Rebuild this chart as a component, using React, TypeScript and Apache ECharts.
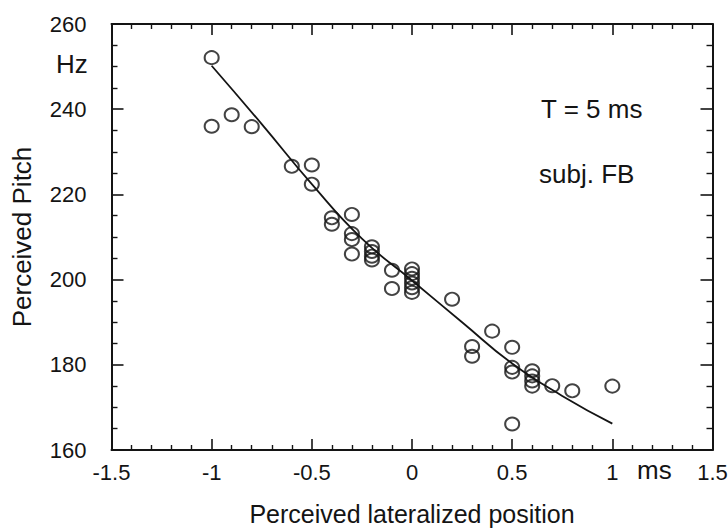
import React, { useEffect, useRef } from "react";
import * as echarts from "echarts";

const pitchX = [
  -1, -1, -0.9, -0.8, -0.6, -0.5, -0.5, -0.4, -0.4, -0.3, -0.3, -0.3, -0.3,
  -0.2, -0.2, -0.2, -0.2, -0.1, -0.1, 0, 0, 0, 0, 0, 0, 0.2, 0.3, 0.3, 0.4,
  0.5, 0.5, 0.5, 0.5, 0.6, 0.6, 0.6, 0.6, 0.7, 0.8, 1.0,
];
const pitchY = [
  252.1, 236.0, 238.7, 235.9, 226.6, 226.9, 222.4, 214.5, 213.0, 215.3, 210.8,
  209.4, 206.0, 207.7, 206.6, 205.5, 204.6, 202.2, 197.9, 202.5, 201.4, 200.3,
  199.2, 198.1, 197.0, 195.4, 184.3, 182.0, 187.9, 184.1, 179.4, 178.3, 166.1,
  178.6, 177.4, 176.2, 175.0, 175.1, 173.9, 175.0,
];
const fitX = [-1, -0.75, -0.5, -0.25, 0, 0.25, 0.5, 0.75, 1];
const fitY = [250.2, 236.5, 222.4, 209.6, 199.8, 190.0, 180.3, 172.7, 166.2];

const xTickLabels = ["-1.5", "-1", "-0.5", "0", "0.5", "1", "1.5"];
const yTickLabels = ["160", "180", "200", "220", "240", "260"];

const FONT = "'Liberation Sans', Arial, Helvetica, sans-serif";
const INK = "#141414";

const GRID = { left: 111.5, right: 15.5, top: 24, bottom: 81 };
const W = 728;
const H = 531;
const GW = W - GRID.left - GRID.right;
const GH = H - GRID.top - GRID.bottom;

export default function App() {
  const ref = useRef<HTMLDivElement>(null);
  useEffect(() => {
    if (!ref.current) return;
    const chart = echarts.init(ref.current, null, { renderer: "svg" });
    const xi = (v: number) => xTickLabels[Math.round((v + 1.5) / 0.5)] ?? "";
    const yi = (v: number) => yTickLabels[Math.round((v - 160) / 20)] ?? "";
    const line = { show: true, onZero: false, lineStyle: { color: INK, width: 2 } };
    const noLine = { show: false, onZero: false };
    const xScale = { type: "value", min: -1.5, max: 1.5, interval: 0.5, splitLine: { show: false } };
    const yScale = { type: "value", min: 160, max: 260, interval: 20, splitLine: { show: false } };
    const xTicks = {
      axisTick: { show: true, length: 11, lineStyle: { color: INK, width: 1.6 } },
      minorTick: { show: true, splitNumber: 5, length: 5, lineStyle: { color: INK, width: 1.4 } },
    };
    const yTicks = {
      axisTick: { show: true, length: 12, lineStyle: { color: INK, width: 1.6 } },
      minorTick: { show: true, splitNumber: 4, length: 6, lineStyle: { color: INK, width: 1.4 } },
    };
    const off = { axisTick: { show: false }, minorTick: { show: false } };
    chart.setOption({
      animation: false,
      backgroundColor: "#fff",
      textStyle: { fontFamily: FONT },
      grid: { ...GRID, containLabel: false, outerBoundsMode: "none" },
      xAxis: [
        {
          ...xScale,
          ...off,
          position: "bottom",
          axisLine: line,
          name: "Perceived lateralized position",
          nameLocation: "middle",
          nameGap: 51,
          nameTextStyle: { fontSize: 25, color: INK, fontFamily: FONT },
          axisLabel: { fontSize: 22, color: INK, margin: 11, fontFamily: FONT, formatter: xi },
        },
        { ...xScale, ...off, position: "top", axisLine: line, axisLabel: { show: false } },
        // inward ticks on the bottom frame
        { ...xScale, ...xTicks, position: "top", offset: -GH, axisLine: noLine, axisLabel: { show: false } },
        // inward ticks on the top frame
        { ...xScale, ...xTicks, position: "bottom", offset: -GH, axisLine: noLine, axisLabel: { show: false } },
      ],
      yAxis: [
        {
          ...yScale,
          ...off,
          position: "left",
          axisLine: line,
          name: "Perceived Pitch",
          nameLocation: "middle",
          nameGap: 77,
          nameRotate: 90,
          nameTextStyle: { fontSize: 26, color: INK, fontFamily: FONT },
          axisLabel: { fontSize: 22, color: INK, margin: 25, fontFamily: FONT, formatter: yi },
        },
        { ...yScale, ...off, position: "right", axisLine: line, axisLabel: { show: false } },
        // inward ticks on the left frame
        { ...yScale, ...yTicks, position: "right", offset: -GW, axisLine: noLine, axisLabel: { show: false } },
        // inward ticks on the right frame
        { ...yScale, ...yTicks, position: "left", offset: -GW, axisLine: noLine, axisLabel: { show: false } },
      ],
      graphic: [
        { type: "text", left: 56, top: 51, style: { text: "Hz", fontSize: 26, fill: INK, fontFamily: FONT } },
        { type: "text", left: 637, top: 457, style: { text: "ms", fontSize: 26, fill: INK, fontFamily: FONT } },
        { type: "text", left: 541, top: 96, style: { text: "T = 5 ms", fontSize: 26, fill: INK, fontFamily: FONT } },
        { type: "text", left: 539, top: 161, style: { text: "subj. FB", fontSize: 26, fill: INK, fontFamily: FONT } },
      ],
      series: [
        {
          type: "line",
          xAxisIndex: 0,
          yAxisIndex: 0,
          data: fitX.map((x, i) => [x, fitY[i]]),
          smooth: true,
          showSymbol: false,
          lineStyle: { color: INK, width: 1.8 },
          z: 2,
        },
        {
          type: "scatter",
          xAxisIndex: 0,
          yAxisIndex: 0,
          data: pitchX.map((x, i) => [x, pitchY[i]]),
          symbol: "circle",
          symbolSize: [14, 13],
          itemStyle: { color: "rgba(0,0,0,0)", borderColor: INK, borderWidth: 2 },
          z: 3,
        },
      ],
    });
    return () => chart.dispose();
  }, []);
  return <div ref={ref} style={{ width: W, height: H, position: "absolute", left: 0, top: 0 }} />;
}
